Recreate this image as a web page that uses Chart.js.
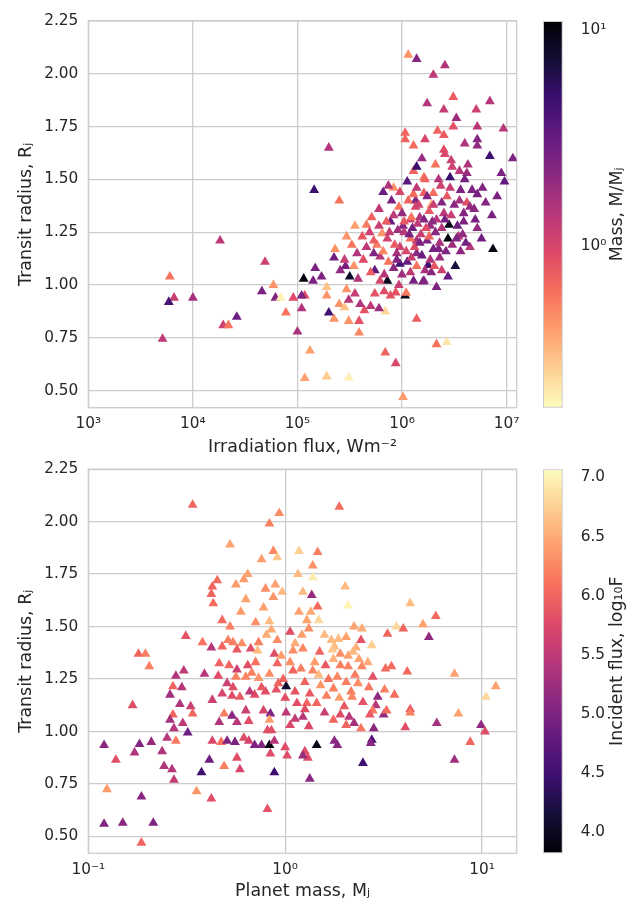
<!DOCTYPE html>
<html>
<head>
<meta charset="utf-8">
<title>Transit radius vs irradiation flux and planet mass</title>
<script src="https://cdn.jsdelivr.net/npm/chart.js@4.4.1/dist/chart.umd.min.js"></script>
<style>
    html, body { margin: 0; padding: 0; background: #fff; }
    #wrap { position: relative; width: 640px; height: 904px; overflow: hidden; }
    canvas { position: absolute; }
</style>
</head>
<body>
<div id="wrap">
    <canvas id="fluxChart" width="530" height="460" style="left:0;top:0"></canvas>
    <canvas id="massCbar" width="110" height="460" style="left:530px;top:0"></canvas>
    <canvas id="massChart" width="530" height="454" style="left:0;top:450px"></canvas>
    <canvas id="fluxCbar" width="110" height="454" style="left:530px;top:450px"></canvas>
</div>
<script>
// Top panel: irradiation flux (log10 W m^-2), transit radius (R_J), colour = mass (M_J)
var irrFluxLog = [
    4.26, 4.69, 3.78, 4.77, 4.66, 3.82, 3.77, 4.00, 4.79, 4.84,
    4.96, 5.06, 5.04, 4.89, 4.42, 4.29, 4.34, 3.71, 5.00, 5.07,
    5.12, 5.28, 5.49, 5.84, 5.94, 6.01, 6.14, 6.33, 6.43, 5.59,
    5.59, 5.49, 5.35, 5.30, 5.84, 5.64, 5.70, 5.78, 5.40, 5.45,
    5.49, 5.60, 5.55, 5.47, 5.28, 5.74, 5.83, 5.89, 5.94, 6.03,
    6.04, 6.20, 5.07, 5.04, 6.06, 6.14, 5.30, 5.16, 5.40, 6.03,
    6.03, 6.11, 6.11, 6.14, 6.05, 5.92, 5.82, 5.87, 5.98, 5.17,
    5.15, 5.23, 5.28, 5.35, 5.36, 5.47, 5.55, 5.41, 5.46, 5.50,
    5.54, 5.63, 5.58, 5.66, 5.71, 5.78, 5.78, 5.81, 5.86, 5.89,
    5.90, 5.97, 6.01, 6.08, 6.13, 6.14, 5.98, 6.05, 5.98, 5.87,
    5.79, 5.74, 5.86, 5.79, 5.70, 6.08, 6.14, 6.13, 5.66, 5.76,
    5.57, 5.73, 5.62, 5.95, 6.08, 6.41, 6.30, 6.49, 6.24, 6.84,
    6.40, 6.71, 6.52, 6.72, 6.97, 6.49, 6.34, 6.40, 6.22, 6.60,
    6.72, 6.72, 6.40, 6.41, 6.84, 7.06, 6.19, 6.47, 6.48, 6.32,
    6.63, 6.55, 6.46, 6.62, 6.21, 6.22, 6.95, 6.98, 6.60, 6.56,
    6.35, 6.37, 6.46, 6.67, 6.72, 6.91, 6.80, 6.62, 6.28, 6.21,
    6.30, 6.11, 6.38, 6.40, 6.59, 6.65, 6.59, 6.72, 6.45, 6.44,
    6.54, 6.87, 6.51, 6.25, 6.38, 6.14, 6.21, 6.35, 6.30, 6.24,
    6.27, 6.17, 6.21, 6.33, 6.09, 6.02, 6.10, 6.18, 6.26, 6.32,
    6.36, 6.42, 6.48, 6.53, 6.56, 6.12, 6.19, 6.27, 6.04, 5.93,
    5.96, 5.85, 5.92, 6.00, 6.16, 6.26, 6.06, 6.00, 6.11, 6.28,
    6.44, 6.33, 5.92, 5.97, 5.82, 5.69, 5.73, 5.52, 5.45, 6.50,
    6.43, 6.70, 6.76, 6.65, 6.14, 6.07, 6.15, 6.23, 6.29, 6.38,
    6.41, 6.47, 6.52, 6.58, 6.61, 6.36, 6.31, 6.22, 6.17, 6.09,
    5.95, 5.88, 5.83, 6.55, 6.69, 6.77, 6.86, 6.30, 6.24, 6.02
];
var radiusTop = [
    1.21, 1.11, 1.04, 1.00, 0.97, 0.94, 0.92, 0.94, 0.94, 0.94,
    0.94, 1.03, 0.89, 0.87, 0.85, 0.81, 0.81, 0.745, 0.78, 0.56,
    0.69, 0.567, 0.562, 0.68, 0.63, 0.47, 0.84, 0.72, 0.73, 0.775,
    0.83, 0.83, 0.84, 0.87, 0.875, 0.88, 0.90, 0.89, 0.91, 0.895,
    0.93, 0.91, 0.96, 0.98, 0.95, 0.96, 0.97, 0.95, 0.965, 0.95,
    0.963, 1.016, 0.95, 0.95, 2.09, 2.07, 1.65, 1.45, 1.40, 1.72,
    1.69, 1.66, 1.54, 1.56, 1.49, 1.46, 1.44, 1.47, 1.44, 1.08,
    1.02, 1.04, 0.99, 1.13, 1.17, 1.23, 1.28, 1.07, 1.09, 1.04,
    1.09, 1.12, 1.03, 1.285, 1.32, 1.36, 1.28, 1.245, 1.22, 1.30,
    1.40, 1.37, 1.28, 1.31, 1.40, 1.21, 1.18, 1.11, 1.10, 1.11,
    1.135, 1.07, 1.02, 1.02, 1.06, 1.06, 1.15, 1.37, 1.18, 1.19,
    1.15, 1.21, 1.23, 1.15, 1.22, 2.04, 1.995, 1.89, 1.86, 1.87,
    1.83, 1.83, 1.79, 1.75, 1.74, 1.75, 1.73, 1.71, 1.69, 1.67,
    1.69, 1.66, 1.64, 1.62, 1.61, 1.60, 1.60, 1.59, 1.56, 1.57,
    1.57, 1.54, 1.51, 1.53, 1.51, 1.50, 1.53, 1.49, 1.50, 1.45,
    1.50, 1.47, 1.46, 1.45, 1.43, 1.42, 1.39, 1.39, 1.38, 1.435,
    1.435, 1.43, 1.39, 1.34, 1.34, 1.37, 1.30, 1.27, 1.285, 1.22,
    1.23, 1.17, 1.09, 1.095, 1.07, 1.09, 1.02, 1.17, 1.17, 1.21,
    1.28, 1.32, 1.31, 1.31, 1.32, 1.25, 1.27, 1.24, 1.23, 1.25,
    1.20, 1.16, 1.19, 1.28, 1.16, 1.18, 1.14, 1.12, 1.16, 1.19,
    1.26, 1.30, 1.33, 1.34, 1.38, 1.35, 1.40, 1.05, 1.02, 1.06,
    1.04, 0.99, 1.08, 1.00, 1.16, 1.25, 1.15, 1.19, 1.12, 1.38,
    1.42, 1.31, 1.22, 1.18, 1.46, 1.24, 1.29, 1.27, 1.30, 1.27,
    1.31, 1.33, 1.22, 1.24, 1.20, 1.13, 1.09, 1.07, 1.20, 1.13,
    1.12, 1.25, 1.05, 1.40, 1.36, 1.46, 1.33, 1.38, 1.42, 1.30
];
var massTop = [
    1.3, 1.1, 0.6, 0.45, 2.6, 1.2, 4.2, 1.7, 2.3, 0.2,
    0.9, 10, 1.5, 0.6, 3.0, 1.1, 0.6, 1.3, 1.6, 0.4,
    0.4, 0.28, 0.2, 0.7, 1.0, 0.42, 0.75, 0.6, 0.22, 0.5,
    0.85, 0.45, 0.45, 4.5, 0.25, 0.85, 1.3, 1.8, 0.45, 0.3,
    1.4, 1.5, 1.2, 0.45, 0.45, 0.85, 0.9, 0.85, 0.85, 9,
    0.55, 2.5, 0.9, 2.5, 0.45, 2.3, 1.5, 4.8, 0.6, 0.7,
    0.7, 0.65, 0.7, 5, 3.5, 0.45, 3, 1.5, 1.0, 2.5,
    2.6, 2.4, 0.3, 2.8, 0.45, 0.45, 0.4, 2.0, 2.6, 8,
    0.45, 0.9, 1.5, 0.55, 0.7, 1.3, 1.2, 0.45, 1.1, 3,
    2.5, 0.6, 2.4, 1.1, 2.5, 1.6, 1.1, 3.2, 4.5, 0.6,
    1.4, 3.3, 9, 1.0, 0.75, 1.3, 2.2, 1.0, 1.3, 0.55,
    1.5, 0.75, 0.8, 1.6, 0.65, 1.5, 1.3, 0.75, 1.5, 1.4,
    1.2, 1.1, 1.8, 1.4, 1.4, 0.85, 0.7, 0.75, 1.0, 1.5,
    2.3, 2.0, 0.9, 1.0, 4.7, 2.4, 1.9, 1.1, 1.1, 0.6,
    1.5, 1.4, 4.8, 1.8, 0.6, 0.7, 2.5, 3.2, 2.6, 2.4,
    1.5, 1.1, 1.2, 2.5, 2.6, 2.5, 2.3, 0.85, 0.35, 0.75,
    0.65, 0.65, 2.3, 1.3, 2.3, 1.9, 2.4, 2.0, 9, 10,
    1.5, 10, 7, 4.5, 1.1, 0.6, 2.4, 2.5, 2.6, 2.4,
    1.9, 1.5, 2.3, 1.4, 0.6, 1.4, 2.8, 1.2, 0.7, 2.2,
    1.6, 2.4, 1.8, 2.9, 2.1, 0.9, 3.0, 1.5, 1.0, 0.8,
    1.7, 0.75, 1.3, 2.0, 1.1, 0.8, 0.7, 1.8, 2.7, 2.3,
    3.2, 2.5, 2.1, 1.2, 0.5, 1.1, 2.4, 0.6, 1.2, 2.2,
    0.8, 2.6, 2.8, 1.4, 1.3, 2.6, 1.3, 0.9, 2.1, 1.5,
    2.7, 1.2, 2.4, 2.0, 2.8, 1.9, 0.8, 1.6, 2.5, 1.2,
    2.3, 1.2, 1.4, 1.6, 2.2, 2.4, 2.6, 1.2, 2.4, 0.8
];

// Bottom panel: planet mass (log10 M_J), transit radius (R_J), colour = log10 incident flux
var planetMassLog = [
    -0.47, -0.03, -0.08, -0.28, -0.06, -0.12, -0.04, -0.19, -0.21, -0.345,
    -0.37, -0.375, -0.365, -0.25, -0.10, -0.05, -0.06, -0.015, -0.20, -0.225,
    -0.11, -0.32, -0.28, -0.08, -0.07, -0.505, -0.42, -0.375, -0.32, -0.29,
    -0.265, -0.22, -0.245, -0.175, -0.135, -0.14, -0.095, -0.04, -0.055, -0.745,
    -0.71, -0.69, -0.515, -0.555, -0.41, -0.335, -0.34, -0.285, -0.245, -0.19,
    -0.17, -0.135, -0.25, -0.20, -0.08, -0.04, -0.57, -0.525, -0.585, -0.535,
    -0.48, -0.47, -0.57, -0.585, -0.565, -0.52, -0.495, -0.60, -0.555, -0.775,
    -0.37, -0.32, -0.27, -0.23, -0.295, -0.265, -0.155, -0.18, -0.10, -0.045,
    -0.035, -0.31, -0.27, -0.245, -0.335, -0.185, -0.11, -0.075, -0.08, -0.09,
    -0.07, -0.37, -0.325, -0.295, -0.255, -0.21, -0.185, -0.155, -0.12, -0.08,
    -0.055, -0.92, -0.86, -0.74, -0.68, -0.765, -0.625, -0.615, -0.575, -0.565,
    -0.425, -0.385, -0.31, -0.245, -0.23, -0.075, -0.055, -0.905, -0.73, -0.45,
    -0.375, -0.09, -0.92, -0.825, -0.67, -0.73, 0.275, 0.07, 0.165, 0.14,
    0.065, 0.14, 0.305, 0.09, 0.135, 0.165, 0.32, 0.635, 0.765, 0.70,
    0.07, 0.11, 0.17, 0.12, 0.565, 0.60, 0.52, 0.73, 0.025, 0.085,
    0.35, 0.39, 0.31, 0.385, 0.235, 0.27, 0.25, 0.44, 0.04, 0.09,
    0.175, 0.345, 0.32, 0.375, 0.245, 0.15, 0.205, 0.025, 0.04, 0.28,
    0.32, 0.39, 0.355, 0.265, 0.17, 0.14, 0.51, 0.54, 0.62, 0.86,
    0.445, 0.31, 0.245, 0.005, 0.10, 0.125, 0.05, 0.0, 0.06, 0.11,
    0.16, 0.21, 0.275, 0.335, 0.34, 0.425, 0.395, 0.47, 0.505, 0.555,
    0.46, 0.445, 0.43, 0.50, 0.515, 0.635, 0.635, 0.005, 0.10, 0.09,
    0.28, 0.245, 0.325, 0.35, 0.31, 0.385, 0.025, 0.12, 0.45, 0.61,
    0.77, 0.88, 0.995, 1.015, 1.07, 1.02, 0.94, 0.86, 0.0, 0.01,
    0.10, 0.115, 0.09, 0.16, 0.25, 0.265, 0.44, 0.435, 0.395, 0.125,
    -0.15, -0.02, 0.05, 0.20, 0.28, 0.36, 0.22, 0.08, -0.12, -0.01,
    0.18, 0.30, 0.20, -0.20, 0.05, 0.37, 0.24, 0.13, -0.15, 0.42
];
var radiusBottom = [
    2.08, 2.04, 1.99, 1.89, 1.86, 1.82, 1.83, 1.75, 1.725, 1.72,
    1.69, 1.655, 1.61, 1.70, 1.68, 1.70, 1.64, 1.665, 1.63, 1.57,
    1.59, 1.53, 1.50, 1.525, 1.485, 1.455, 1.425, 1.40, 1.405, 1.435,
    1.425, 1.42, 1.39, 1.395, 1.425, 1.385, 1.46, 1.435, 1.37, 1.37,
    1.37, 1.31, 1.29, 1.265, 1.275, 1.325, 1.265, 1.315, 1.295, 1.315,
    1.28, 1.255, 1.26, 1.26, 1.275, 1.325, 1.215, 1.21, 1.175, 1.13,
    1.12, 1.085, 1.08, 1.055, 1.015, 1.04, 0.995, 0.97, 0.955, 1.125,
    1.15, 1.18, 1.17, 1.165, 1.23, 1.21, 1.175, 1.19, 1.19, 1.20,
    1.23, 1.085, 1.075, 1.045, 1.045, 1.05, 1.10, 1.085, 1.055, 1.005,
    1.005, 0.955, 0.95, 0.955, 0.95, 0.97, 0.955, 0.935, 0.935, 0.935,
    0.955, 0.935, 0.865, 0.94, 0.95, 0.90, 0.905, 0.835, 0.82, 0.77,
    0.805, 0.865, 0.835, 0.875, 0.82, 0.895, 0.805, 0.725, 0.69, 0.715,
    0.68, 0.63, 0.56, 0.565, 0.565, 0.47, 2.07, 1.86, 1.855, 1.79,
    1.75, 1.735, 1.69, 1.665, 1.65, 1.595, 1.60, 1.61, 1.55, 1.51,
    1.57, 1.53, 1.53, 1.49, 1.50, 1.49, 1.465, 1.45, 1.475, 1.46,
    1.50, 1.49, 1.45, 1.435, 1.435, 1.44, 1.405, 1.41, 1.385, 1.395,
    1.38, 1.38, 1.36, 1.345, 1.345, 1.33, 1.315, 1.33, 1.29, 1.315,
    1.31, 1.31, 1.27, 1.26, 1.27, 1.29, 1.30, 1.31, 1.285, 1.275,
    1.26, 1.235, 1.205, 1.215, 1.235, 1.18, 1.19, 1.16, 1.135, 1.135,
    1.135, 1.17, 1.16, 1.19, 1.165, 1.21, 1.14, 1.165, 1.20, 1.175,
    1.125, 1.10, 1.08, 1.08, 1.10, 1.105, 1.09, 1.09, 1.105, 1.07,
    1.08, 1.055, 1.07, 1.04, 1.03, 1.015, 1.03, 1.025, 1.015, 1.02,
    1.04, 1.085, 1.03, 1.00, 1.215, 1.165, 0.95, 0.865, 0.925, 0.885,
    0.905, 0.875, 0.885, 0.935, 0.955, 0.935, 0.96, 0.945, 0.85, 0.775,
    1.33, 1.36, 1.42, 1.46, 1.37, 1.40, 1.25, 1.30, 1.21, 1.25,
    1.22, 1.12, 1.09, 1.10, 1.06, 1.23, 1.39, 1.57, 1.52, 1.33
];
var fluxLogBottom = [
    6.0, 6.3, 6.2, 6.45, 6.25, 6.4, 6.7, 6.45, 6.4, 6.05,
    6.0, 6.0, 6.05, 6.4, 6.3, 6.45, 6.35, 6.6, 6.45, 6.4,
    6.45, 6.05, 6.2, 6.6, 6.5, 5.85, 6.1, 5.45, 6.0, 6.2,
    6.2, 6.3, 5.9, 5.8, 6.2, 6.6, 6.5, 6.3, 5.8, 6.0,
    6.2, 6.2, 5.5, 5.4, 5.45, 6.0, 5.8, 6.0, 5.6, 5.8,
    6.2, 6.35, 6.2, 6.25, 6.3, 6.0, 6.0, 5.45, 5.3, 5.4,
    5.6, 6.0, 6.0, 5.3, 5.45, 5.5, 4.85, 5.45, 6.15, 5.8,
    5.6, 5.7, 5.8, 5.9, 5.6, 5.8, 5.8, 5.5, 5.8, 5.85,
    6.0, 6.2, 5.1, 5.45, 5.4, 5.8, 5.7, 5.0, 6.4, 5.8,
    5.8, 5.75, 6.1, 5.0, 5.0, 5.8, 5.7, 5.0, 5.05, 3.9,
    5.45, 5.1, 5.8, 5.05, 5.2, 5.4, 5.4, 5.4, 5.45, 5.55,
    4.5, 4.85, 6.2, 5.8, 5.7, 5.8, 4.5, 6.4, 5.1, 6.35,
    5.8, 5.85, 5.05, 5.1, 5.0, 6.0, 6.05, 6.75, 6.2, 6.35,
    6.6, 6.95, 6.6, 6.6, 5.2, 6.05, 7.0, 6.6, 6.05, 6.45,
    6.45, 6.45, 6.8, 6.3, 6.8, 6.0, 6.0, 5.15, 5.8, 6.45,
    6.45, 6.5, 6.45, 5.85, 6.6, 6.6, 6.6, 6.75, 6.3, 6.25,
    6.0, 6.6, 6.45, 6.45, 6.55, 6.4, 5.9, 6.3, 6.0, 6.2,
    6.25, 6.25, 6.2, 6.25, 6.6, 6.25, 6.05, 6.05, 6.05, 6.45,
    5.85, 6.2, 6.2, 4.1, 6.0, 5.9, 5.85, 5.8, 5.8, 6.0,
    6.0, 6.2, 6.4, 6.2, 6.25, 6.15, 5.85, 5.15, 6.2, 6.05,
    5.45, 6.15, 5.9, 5.15, 6.05, 5.9, 6.2, 5.5, 5.8, 5.45,
    5.8, 6.0, 5.45, 5.3, 6.0, 6.15, 5.75, 5.75, 5.1, 5.8,
    5.3, 6.45, 5.15, 5.8, 6.45, 6.8, 6.0, 5.25, 5.8, 5.8,
    5.8, 5.8, 5.2, 3.95, 5.1, 5.1, 4.6, 5.1, 4.5, 5.1,
    6.1, 6.4, 6.5, 6.6, 6.3, 6.55, 6.1, 6.2, 5.9, 6.0,
    6.35, 5.9, 5.6, 5.6, 5.55, 6.3, 6.7, 6.5, 6.3, 6.5
];

// Axis and colour bar limits
var radiusTicks = [0.5, 0.75, 1.0, 1.25, 1.5, 1.75, 2.0, 2.25];
var fluxTicks = [1e3, 1e4, 1e5, 1e6, 1e7];
var massTicks = [0.1, 1, 10];
var massCbarTicks = [1, 10];
var fluxCbarTicks = [4.0, 4.5, 5.0, 5.5, 6.0, 6.5, 7.0];
var massCbarMin = 0.178, massCbarMax = 11;
var fluxCbarMin = 3.82, fluxCbarMax = 7.07;

var TEXT = '#262626';
var GRID = '#cccccc';
var TICK_SIZE = 15.3;
var LABEL_SIZE = 17.4;
Chart.defaults.font.family = "'DejaVu Sans', sans-serif";
Chart.defaults.color = TEXT;

// magma colour map at every tenth
var MAGMA = ['#000004', '#140e36', '#3b0f70', '#641a80', '#8c2981', '#b73779',
             '#de4968', '#f7705c', '#fe9f6d', '#fecf92', '#fcfdbf'];

function hexToRgb(h) {
    return [parseInt(h.slice(1, 3), 16), parseInt(h.slice(3, 5), 16), parseInt(h.slice(5, 7), 16)];
}

function magma(t) {
    t = Math.min(1, Math.max(0, t));
    var p = t * 10;
    var i = Math.min(9, Math.floor(p));
    var f = p - i;
    var a = hexToRgb(MAGMA[i]), b = hexToRgb(MAGMA[i + 1]);
    var c = a.map(function(v, k) { return Math.round(v + (b[k] - v) * f); });
    return 'rgb(' + c.join(',') + ')';
}

var SUP = {'-': '\u207b', '0': '\u2070', '1': '\u00b9', '2': '\u00b2', '3': '\u00b3',
           '4': '\u2074', '5': '\u2075', '6': '\u2076', '7': '\u2077', '8': '\u2078', '9': '\u2079'};

function powerLabel(value) {
    var exp = String(Math.round(Math.log10(value)));
    return '10' + exp.split('').map(function(c) { return SUP[c]; }).join('');
}

function fixedTicks(values) {
    return function(scale) {
        scale.ticks = values.map(function(v) { return { value: v }; });
    };
}

// Box round the plot area
var axesFrame = {
    id: 'axesFrame',
    beforeDatasetsDraw: function(chart) {
        var a = chart.chartArea, ctx = chart.ctx;
        ctx.save();
        ctx.strokeStyle = GRID;
        ctx.lineWidth = 1.3;
        ctx.strokeRect(a.left, a.top, a.right - a.left, a.bottom - a.top);
        ctx.restore();
    }
};

// Rotated colour bar label (reads bottom to top)
var cbarLabel = {
    id: 'cbarLabel',
    afterDraw: function(chart, args, opts) {
        var a = chart.chartArea, ctx = chart.ctx;
        ctx.save();
        ctx.translate(opts.x, (a.top + a.bottom) / 2);
        ctx.rotate(-Math.PI / 2);
        ctx.font = LABEL_SIZE + "px 'DejaVu Sans'";
        ctx.fillStyle = TEXT;
        ctx.textAlign = 'center';
        ctx.textBaseline = 'middle';
        ctx.fillText(opts.text, 0, 0);
        ctx.restore();
    }
};

function scatterChart(canvasId, points, colors, xScale, padTop, xAxisHeight, titlePadBottom) {
    xScale.grid = { color: GRID, lineWidth: 1.3, drawTicks: false };
    xScale.border = { display: false };
    xScale.afterFit = function(s) { s.height = xAxisHeight; };
    xScale.ticks.padding = 7.5;
    xScale.ticks.maxRotation = 0;
    xScale.ticks.autoSkip = false;
    xScale.ticks.font = { size: TICK_SIZE };
    xScale.title.display = true;
    xScale.title.font = { size: LABEL_SIZE };
    xScale.title.padding = { top: 0, bottom: titlePadBottom };

    return new Chart(document.getElementById(canvasId), {
        type: 'scatter',
        data: {
            datasets: [{
                data: points,
                pointStyle: 'triangle',
                pointRadius: 5.7,
                pointHoverRadius: 5.7,
                pointBorderWidth: 0,
                pointBackgroundColor: colors,
                pointBorderColor: colors
            }]
        },
        options: {
            responsive: false,
            animation: false,
            events: [],
            layout: { padding: { top: padTop, right: 13.3, left: 0, bottom: 0 } },
            plugins: { legend: { display: false }, tooltip: { enabled: false } },
            scales: {
                x: xScale,
                y: {
                    min: 0.42,
                    max: 2.25,
                    afterBuildTicks: fixedTicks(radiusTicks),
                    afterFit: function(s) { s.width = 88.3; },
                    grid: { color: GRID, lineWidth: 1.3, drawTicks: false },
                    border: { display: false },
                    ticks: {
                        padding: 10,
                        autoSkip: false,
                        font: { size: TICK_SIZE },
                        callback: function(v) { return v.toFixed(2); }
                    },
                    title: {
                        display: true,
                        text: 'Transit radius, R\u2c7c',
                        font: { size: LABEL_SIZE },
                        padding: { top: 16, bottom: 0 }
                    }
                }
            }
        },
        plugins: [axesFrame]
    });
}

function colorBar(canvasId, yScale, reversed, padTop, padBottom, label) {
    yScale.position = 'right';
    yScale.afterFit = function(s) { s.width = 77.3; };
    yScale.grid = { display: false };
    yScale.border = { display: false };
    yScale.ticks.padding = 10;
    yScale.ticks.font = { size: TICK_SIZE };

    return new Chart(document.getElementById(canvasId), {
        type: 'bar',
        data: {
            labels: [''],
            datasets: [{
                data: [[yScale.min, yScale.max]],
                backgroundColor: function(context) {
                    var a = context.chart.chartArea;
                    if (!a) return MAGMA[5];
                    var g = context.chart.ctx.createLinearGradient(0, a.bottom, 0, a.top);
                    MAGMA.forEach(function(c, i) {
                        g.addColorStop(i / 10, reversed ? MAGMA[10 - i] : c);
                    });
                    return g;
                },
                borderColor: GRID,
                borderWidth: 1.3,
                borderSkipped: false,
                barPercentage: 1,
                categoryPercentage: 1
            }]
        },
        options: {
            responsive: false,
            animation: false,
            events: [],
            layout: { padding: { top: padTop, bottom: padBottom, left: 13, right: 0 } },
            plugins: {
                legend: { display: false },
                tooltip: { enabled: false },
                cbarLabel: { text: label, x: 87 }
            },
            scales: {
                x: { display: false },
                y: yScale
            }
        },
        plugins: [cbarLabel]
    });
}

// Colours from the colour bar norms
var massLogSpan = Math.log10(massCbarMax) - Math.log10(massCbarMin);
var fluxPoints = irrFluxLog.map(function(f, i) { return { x: Math.pow(10, f), y: radiusTop[i] }; });
var fluxPointColors = massTop.map(function(m) {
    return magma(1 - (Math.log10(m) - Math.log10(massCbarMin)) / massLogSpan);
});
var massPoints = planetMassLog.map(function(m, i) { return { x: Math.pow(10, m), y: radiusBottom[i] }; });
var massPointColors = fluxLogBottom.map(function(f) {
    return magma((f - fluxCbarMin) / (fluxCbarMax - fluxCbarMin));
});

// Top: radius against irradiation flux
scatterChart('fluxChart', fluxPoints, fluxPointColors, {
    type: 'logarithmic',
    min: 1e3,
    max: 1.25e7,
    afterBuildTicks: fixedTicks(fluxTicks),
    ticks: { callback: powerLabel },
    title: { text: 'Irradiation flux, Wm\u207b\u00b2' }
}, 21, 52.3, 1.7);

colorBar('massCbar', {
    type: 'logarithmic',
    min: massCbarMin,
    max: massCbarMax,
    afterBuildTicks: fixedTicks(massCbarTicks),
    ticks: { callback: powerLabel }
}, true, 21, 52.3, 'Mass, M/M\u2c7c');

// Bottom: radius against planet mass
scatterChart('massChart', massPoints, massPointColors, {
    type: 'logarithmic',
    min: 0.1,
    max: 15,
    afterBuildTicks: fixedTicks(massTicks),
    ticks: { callback: powerLabel },
    title: { text: 'Planet mass, M\u2c7c' }
}, 15.7, 50.7, 2);

colorBar('fluxCbar', {
    type: 'linear',
    min: fluxCbarMin,
    max: fluxCbarMax,
    afterBuildTicks: fixedTicks(fluxCbarTicks),
    ticks: { callback: function(v) { return v.toFixed(1); } }
}, false, 15.7, 50.7, 'Incident flux, log\u2081\u2080F');
</script>
</body>
</html>
